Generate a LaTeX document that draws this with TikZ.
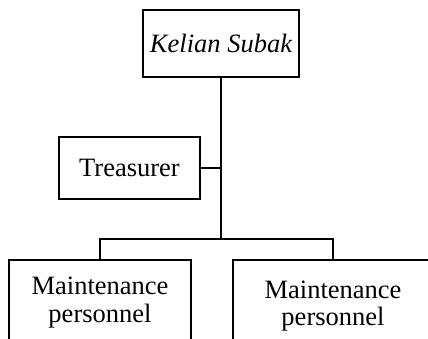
\documentclass[tikz,border=0pt]{standalone}
\usepackage{fontspec}
\setmainfont{Liberation Serif}
\begin{document}
\begin{tikzpicture}[x=1pt,y=-1pt,
  box/.style={draw, line width=1.3pt, inner sep=0pt, align=center, font=\fontsize{26.5}{27.5}\selectfont},
  link/.style={line width=1.3pt}]
\useasboundingbox (0,0) rectangle (428,339);
\clip (0,0) rectangle (428,339);
\node[box, minimum width=156pt, minimum height=67pt] (top) at (221,43.5) {\itshape Kelian Subak};
\node[box, minimum width=141pt, minimum height=62pt] (treas) at (129.5,168) {Treasurer};
\node[box, minimum width=182pt, minimum height=85pt] (bl) at (100,302.5) {Maintenance\\personnel};
\node[box, minimum width=200pt, minimum height=92pt] (br) at (333,306) {Maintenance\\personnel};
\coordinate (t) at (221,168);
\coordinate (j) at (221,239);
\draw[link] (top.south) -- (j);
\draw[link] (treas.east) -- (t);
\draw[link] (bl.north) |- (j) -| (br.north);
\end{tikzpicture}
\end{document}
